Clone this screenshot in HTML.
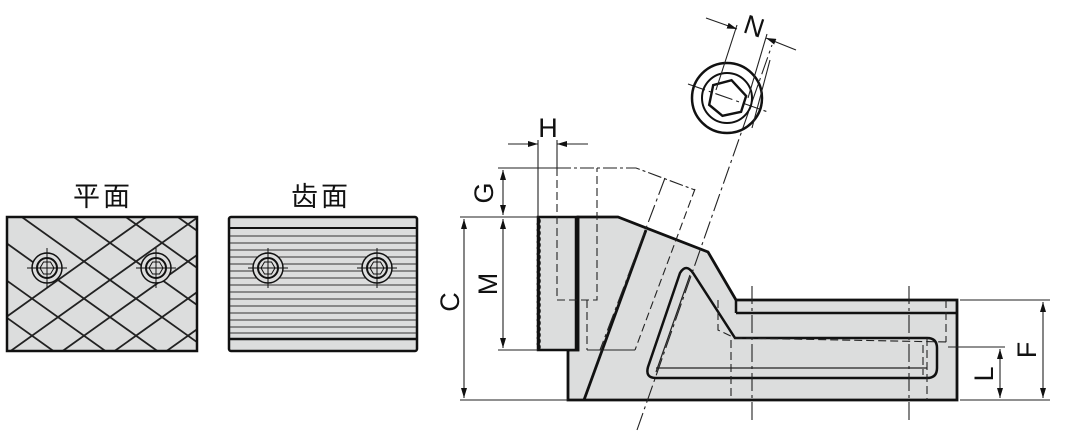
<!DOCTYPE html>
<html><head><meta charset="utf-8"><style>
html,body{margin:0;padding:0;background:#fff;width:1082px;height:432px;overflow:hidden;}
svg{display:block;}
text{font-family:"Liberation Sans","Noto Sans CJK SC",sans-serif;fill:#111;}
</style></head><body>
<svg width="1082" height="432" viewBox="0 0 1082 432" xmlns="http://www.w3.org/2000/svg">
<defs>
<clipPath id="c1"><rect x="8" y="218" width="188" height="132"/></clipPath>
<marker id="ar" viewBox="0 0 10 6" refX="10" refY="3" markerWidth="10" markerHeight="6" orient="auto-start-reverse" markerUnits="userSpaceOnUse"><path d="M0,0 L10,3 L0,6 z" fill="#111"/></marker>
</defs>
<text x="103" y="206" font-size="27" text-anchor="middle" letter-spacing="3">平面</text>
<text x="321" y="206" font-size="27" text-anchor="middle" letter-spacing="3">齿面</text>
<!-- plate 1 -->
<rect x="7" y="217" width="190" height="134" fill="#dcdddd"/>
<g clip-path="url(#c1)" stroke="#222" stroke-width="1.8" fill="none">
<path d="M-200,170 L220,470 M-148,170 L272,470 M-96,170 L324,470 M-44,170 L376,470 M8,170 L428,470 M60,170 L480,470 M112,170 L532,470 M164,170 L584,470 M-252,170 L168,470 M-304,170 L116,470 M-356,170 L64,470"/>
<path d="M420,170 L0,470 M368,170 L-52,470 M316,170 L-104,470 M264,170 L-156,470 M212,170 L-208,470 M472,170 L52,470 M524,170 L104,470 M576,170 L156,470 M628,170 L208,470"/>
</g>
<rect x="7" y="217" width="190" height="134" fill="none" stroke="#111" stroke-width="2.5"/>
<!-- plate 2 -->
<rect x="229" y="217" width="188" height="134" rx="2" fill="#dcdddd" stroke="#111" stroke-width="2.5"/>
<g stroke="#333" stroke-width="1">
<line x1="230" y1="236" x2="416" y2="236"/><line x1="230" y1="243" x2="416" y2="243"/><line x1="230" y1="250" x2="416" y2="250"/><line x1="230" y1="257" x2="416" y2="257"/><line x1="230" y1="264" x2="416" y2="264"/><line x1="230" y1="271" x2="416" y2="271"/><line x1="230" y1="278" x2="416" y2="278"/><line x1="230" y1="285" x2="416" y2="285"/><line x1="230" y1="292" x2="416" y2="292"/><line x1="230" y1="299" x2="416" y2="299"/><line x1="230" y1="306" x2="416" y2="306"/><line x1="230" y1="313" x2="416" y2="313"/><line x1="230" y1="320" x2="416" y2="320"/><line x1="230" y1="327" x2="416" y2="327"/><line x1="230" y1="333" x2="416" y2="333"/>
</g>
<line x1="230" y1="228" x2="416" y2="228" stroke="#111" stroke-width="2"/>
<line x1="230" y1="339" x2="416" y2="339" stroke="#111" stroke-width="2.5"/>
<!-- holes -->
<g fill="#dcdddd" stroke="#111">
<g transform="translate(47,268)"><circle r="15" stroke-width="1.5"/><circle r="10" stroke-width="2"/><polygon points="7,0 3.5,6 -3.5,6 -7,0 -3.5,-6 3.5,-6" stroke-width="1"/><path d="M-20,0H20M0,-20V20" stroke-width="1" fill="none"/></g>
<g transform="translate(156,268)"><circle r="15" stroke-width="1.5"/><circle r="10" stroke-width="2"/><polygon points="7,0 3.5,6 -3.5,6 -7,0 -3.5,-6 3.5,-6" stroke-width="1"/><path d="M-20,0H20M0,-20V20" stroke-width="1" fill="none"/></g>
<g transform="translate(268,268)"><circle r="15" stroke-width="1.5"/><circle r="10" stroke-width="2"/><polygon points="7,0 3.5,6 -3.5,6 -7,0 -3.5,-6 3.5,-6" stroke-width="1"/><path d="M-20,0H20M0,-20V20" stroke-width="1" fill="none"/></g>
<g transform="translate(377,268)"><circle r="15" stroke-width="1.5"/><circle r="10" stroke-width="2"/><polygon points="7,0 3.5,6 -3.5,6 -7,0 -3.5,-6 3.5,-6" stroke-width="1"/><path d="M-20,0H20M0,-20V20" stroke-width="1" fill="none"/></g>
</g>

<!-- main body -->
<path d="M578,217 L618,217 L708,252 L736,300 L957,300 L957,400 L568,400 L568,350 L578,350 Z" fill="#dcdddd" stroke="#111" stroke-width="2.8" stroke-linejoin="miter"/>
<path d="M538,217 L578,217 L578,350 L538,350 Z" fill="#dcdddd" stroke="#111" stroke-width="2.5"/>
<path d="M538,218 q3,3 0,6 q3,3 0,6 q3,3 0,6 q3,3 0,6 q3,3 0,6 q3,3 0,6 q3,3 0,6 q3,3 0,6 q3,3 0,6 q3,3 0,6 q3,3 0,6 q3,3 0,6 q3,3 0,6 q3,3 0,6 q3,3 0,6 q3,3 0,6 q3,3 0,6 q3,3 0,6 q3,3 0,6 q3,3 0,6 q3,3 0,6 q3,3 0,6" fill="none" stroke="#111" stroke-width="2.5"/>
<line x1="576" y1="217" x2="576" y2="350" stroke="#111" stroke-width="2.5"/>
<line x1="736" y1="313" x2="957" y2="313" stroke="#111" stroke-width="2.5"/>
<line x1="736" y1="300" x2="736" y2="313" stroke="#111" stroke-width="2.5"/>
<line x1="646" y1="230" x2="584" y2="400" stroke="#111" stroke-width="2.8"/>
<!-- slot -->
<path d="M735,338 L927,338 Q937,338 937,348 L937,368 Q937,378 927,378 L656,378 Q645,378 648,367 L680,273 Q686,263 693,273 Z" fill="none" stroke="#111" stroke-width="2.5"/>
<line x1="656" y1="368" x2="927" y2="368" stroke="#222" stroke-width="1.2"/>
<line x1="690" y1="275" x2="656" y2="372" stroke="#222" stroke-width="1.2"/>
<!-- hidden lines -->
<g stroke="#222" stroke-width="1.1" fill="none" stroke-dasharray="8,4">
<path d="M557,168 L557,300 L597,300 L597,168"/>
<line x1="587" y1="300" x2="587" y2="350"/>
<path d="M718,300 L718,330 L735,338 L947,342"/>
<line x1="946" y1="300" x2="946" y2="342"/>
<line x1="731" y1="340" x2="731" y2="400"/>
<line x1="927" y1="338" x2="927" y2="400"/>
<line x1="923" y1="345" x2="923" y2="375"/>
<path d="M695,189 L635,350"/>
</g>
<path d="M557,168 L636,168 L695,190" fill="none" stroke="#222" stroke-width="1.1" stroke-dasharray="14,3,3,3"/>
<line x1="587" y1="350" x2="635" y2="350" stroke="#222" stroke-width="1.1"/>
<!-- centerlines -->
<g stroke="#222" stroke-width="1.1" stroke-dasharray="18,4,3,4">
<line x1="637" y1="430" x2="772" y2="45"/>
<line x1="665" y1="178" x2="600" y2="350"/>
<line x1="752" y1="286" x2="752" y2="420"/>
<line x1="909" y1="286" x2="909" y2="420"/>
<line x1="688" y1="84" x2="768" y2="112"/>
</g>
<!-- bolt -->
<g transform="translate(727,98)">
<circle r="35" fill="none" stroke="#111" stroke-width="2.5"/>
<circle r="25" fill="none" stroke="#111" stroke-width="2"/>
<polygon points="19,3 10,17 -9,16 -19,2 -10,-16 9,-16" fill="none" stroke="#111" stroke-width="2.4" transform="rotate(-15)"/>
</g>
<!-- N dim -->
<g stroke="#222" stroke-width="1.1">
<line x1="737" y1="25" x2="716" y2="90"/>
<line x1="767" y1="34" x2="748" y2="98"/>
<line x1="770" y1="60" x2="752" y2="128"/>
<line x1="706" y1="18" x2="737" y2="29" marker-end="url(#ar)"/>
<line x1="796" y1="50" x2="766" y2="38" marker-end="url(#ar)"/>
</g>
<text x="0" y="0" font-size="27" transform="translate(742,32) rotate(18)">N</text>
<!-- dims -->
<g stroke="#222" stroke-width="1.1">
<line x1="538" y1="140" x2="538" y2="217"/>
<line x1="557" y1="140" x2="557" y2="168"/>
<line x1="508" y1="144" x2="538" y2="144" marker-end="url(#ar)"/>
<line x1="588" y1="144" x2="557" y2="144" marker-end="url(#ar)"/>
<line x1="498" y1="168" x2="557" y2="168"/>
<line x1="460" y1="217" x2="538" y2="217"/>
<line x1="498" y1="350" x2="538" y2="350"/>
<line x1="460" y1="400" x2="568" y2="400"/>
<line x1="503" y1="170" x2="503" y2="215" marker-start="url(#ar)" marker-end="url(#ar)"/>
<line x1="503" y1="219" x2="503" y2="348" marker-start="url(#ar)" marker-end="url(#ar)"/>
<line x1="464" y1="219" x2="464" y2="398" marker-start="url(#ar)" marker-end="url(#ar)"/>
<line x1="960" y1="300" x2="1050" y2="300"/>
<line x1="960" y1="400" x2="1050" y2="400"/>
<line x1="948" y1="347" x2="1005" y2="347"/>
<line x1="1043" y1="302" x2="1043" y2="398" marker-start="url(#ar)" marker-end="url(#ar)"/>
<line x1="1000" y1="349" x2="1000" y2="398" marker-start="url(#ar)" marker-end="url(#ar)"/>
</g>
<text x="548" y="137" font-size="27" text-anchor="middle">H</text>
<text font-size="27" text-anchor="middle" transform="translate(493,193) rotate(-90)">G</text>
<text font-size="27" text-anchor="middle" transform="translate(497,284) rotate(-90)">M</text>
<text font-size="27" text-anchor="middle" transform="translate(459,302) rotate(-90)">C</text>
<text font-size="27" text-anchor="middle" transform="translate(1036,350) rotate(-90)">F</text>
<text font-size="27" text-anchor="middle" transform="translate(993,374) rotate(-90)">L</text>
</svg>
</body></html>
